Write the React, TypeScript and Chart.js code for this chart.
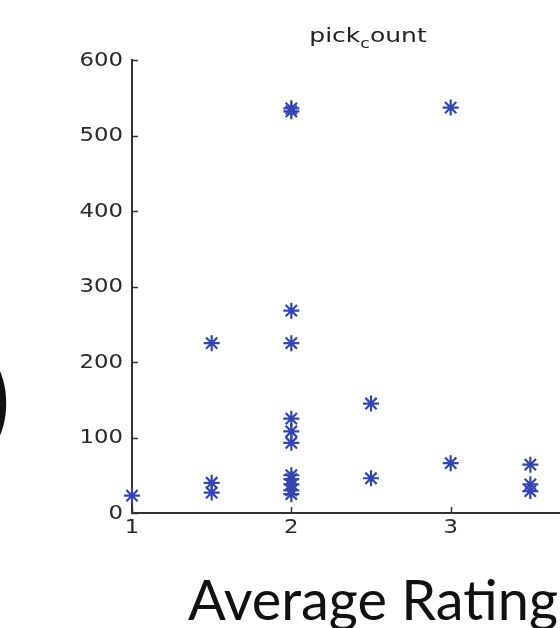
import { useEffect, useRef } from "react";
import { Chart, registerables } from "chart.js";

Chart.register(...registerables);

// ---- data ----
const ratings = [
  1,
  1.5, 1.5, 1.5,
  2, 2, 2, 2, 2, 2, 2, 2, 2, 2, 2, 2,
  2.5, 2.5,
  3, 3,
  3.5, 3.5, 3.5,
];
const pickCounts = [
  23,
  225, 40, 27,
  536, 532, 268, 225, 125, 108, 93, 50, 45, 38, 30, 25,
  145, 46,
  537, 66,
  64, 38, 29,
];
const yTicks = [0, 100, 200, 300, 400, 500, 600];
const xTicks = [1, 2, 3, 4];
const titleMain = "pick";
const titleSub = "c";
const titleRest = "ount";
const xAxisLabel = "Average Rating";
const leftGlyph = ")";

const FONT = "'DejaVu Sans', 'Liberation Sans', Arial, sans-serif";
const MARK = "#3444b0";
const AXIS = "#333333";
const STRETCH = 1.2;

export default function App() {
  const ref = useRef<HTMLCanvasElement | null>(null);

  useEffect(() => {
    if (!ref.current) return;
    const overlay = {
      id: "overlay",
      afterDraw(chart: any) {
        const ctx = chart.ctx as CanvasRenderingContext2D;
        const { left, right, bottom } = chart.chartArea;
        const xs = chart.scales.x;
        const ys = chart.scales.y;
        ctx.save();
        // inward ticks
        ctx.strokeStyle = AXIS;
        ctx.lineWidth = 1.5;
        yTicks.forEach((v) => {
          const py = Math.round(ys.getPixelForValue(v)) + 0.5;
          ctx.beginPath();
          ctx.moveTo(left, py);
          ctx.lineTo(left + 6, py);
          ctx.stroke();
        });
        xTicks.forEach((v) => {
          const px = Math.round(xs.getPixelForValue(v)) + 0.5;
          ctx.beginPath();
          ctx.moveTo(px, bottom);
          ctx.lineTo(px, bottom - 6);
          ctx.stroke();
        });
        // tick labels (slightly wide, as in the reference)
        ctx.fillStyle = "#2a2a2a";
        ctx.font = `19px ${FONT}`;
        ctx.textBaseline = "middle";
        yTicks.forEach((v) => {
          const py = ys.getPixelForValue(v);
          ctx.save();
          ctx.translate(left - 9, py + 1);
          ctx.scale(STRETCH, 1);
          ctx.textAlign = "right";
          ctx.fillText(String(v), 0, 0);
          ctx.restore();
        });
        xTicks.forEach((v) => {
          const px = xs.getPixelForValue(v);
          ctx.save();
          ctx.translate(px, bottom + 15);
          ctx.scale(STRETCH, 1);
          ctx.textAlign = "center";
          ctx.fillText(String(v), 0, 0);
          ctx.restore();
        });
        // title with subscript
        const cx = (left + right) / 2;
        const mainFont = `20px ${FONT}`;
        const subFont = `14px ${FONT}`;
        ctx.font = mainFont;
        const w1 = ctx.measureText(titleMain).width;
        const w3 = ctx.measureText(titleRest).width;
        ctx.font = subFont;
        const w2 = ctx.measureText(titleSub).width;
        const total = w1 + w2 + w3;
        ctx.save();
        ctx.translate(cx - 3, 0);
        ctx.scale(STRETCH + 0.05, 1);
        let tx = -total / 2;
        const base = 42;
        ctx.fillStyle = "#222";
        ctx.textBaseline = "alphabetic";
        ctx.textAlign = "left";
        ctx.font = mainFont;
        ctx.fillText(titleMain, tx, base);
        tx += w1;
        ctx.font = subFont;
        ctx.fillText(titleSub, tx, base + 6);
        tx += w2;
        ctx.font = mainFont;
        ctx.fillText(titleRest, tx, base);
        ctx.restore();
        // big x label (slide text)
        let size = 48;
        ctx.font = `${size}px Lato, 'Open Sans', sans-serif`;
        const mw = ctx.measureText(xAxisLabel).width;
        size = (size * 370) / mw;
        ctx.font = `${size}px Lato, 'Open Sans', sans-serif`;
        ctx.fillStyle = "#111";
        ctx.textAlign = "center";
        ctx.textBaseline = "alphabetic";
        ctx.fillText(xAxisLabel, cx + 2, 620);
        // partial glyph at the left edge
        ctx.font = `100px Lato, 'Open Sans', sans-serif`;
        ctx.textAlign = "left";
        ctx.fillText(leftGlyph, -16, 435);
        ctx.restore();
      },
    };

    const chart = new Chart(ref.current, {
      type: "scatter",
      data: {
        datasets: [
          {
            data: ratings.map((r, i) => ({ x: r, y: pickCounts[i] })),
            pointStyle: "star",
            pointRadius: 8,
            pointBorderWidth: 2.2,
            borderColor: MARK,
            backgroundColor: MARK,
            clip: false as any,
          },
        ],
      },
      options: {
        responsive: false,
        maintainAspectRatio: false,
        animation: false,
        layout: { padding: { top: 60, right: 90, bottom: 0, left: 0 } },
        plugins: {
          legend: { display: false },
          tooltip: { enabled: false },
          title: { display: false },
        },
        scales: {
          x: {
            type: "linear",
            min: 1,
            max: 4,
            afterFit: (s: any) => {
              s.height = 115;
            },
            afterBuildTicks: (s: any) => {
              s.ticks = xTicks.map((v) => ({ value: v }));
            },
            grid: { display: true, drawOnChartArea: false, drawTicks: false },
            border: { display: true, color: AXIS, width: 2 },
            ticks: { display: false },
          },
          y: {
            type: "linear",
            min: 0,
            max: 600,
            afterFit: (s: any) => {
              s.width = 132;
            },
            afterBuildTicks: (s: any) => {
              s.ticks = yTicks.map((v) => ({ value: v }));
            },
            grid: { display: true, drawOnChartArea: false, drawTicks: false },
            border: { display: true, color: AXIS, width: 2 },
            ticks: { display: false },
          },
        },
      },
      plugins: [overlay],
    });
    return () => chart.destroy();
  }, []);

  return (
    <div
      style={{
        position: "fixed",
        left: 0,
        top: 0,
        width: 560,
        height: 628,
        overflow: "hidden",
        background: "#fff",
      }}
    >
      <canvas
        ref={ref}
        width={700}
        height={628}
        style={{ position: "absolute", left: 0, top: 0, width: 700, height: 628 }}
      />
    </div>
  );
}
